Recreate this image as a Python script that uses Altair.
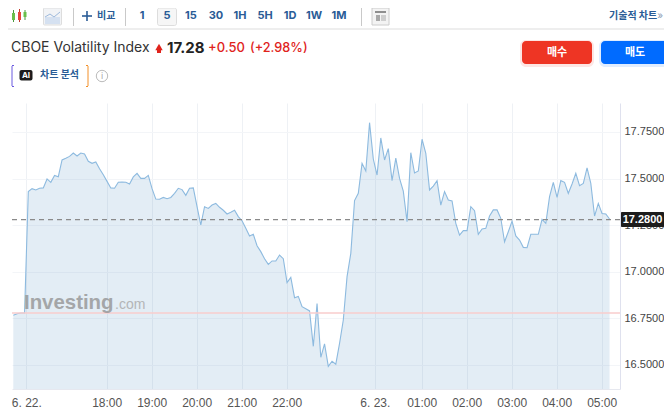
import altair as alt
import pandas as pd

# ---- chart values ----
series_values = [
    16.767, 16.775, 16.779, 16.779,
    17.43, 17.446, 17.439, 17.448, 17.45, 17.498, 17.48, 17.517, 17.51, 17.60,
    17.609, 17.619, 17.637, 17.621, 17.637, 17.632, 17.593, 17.582, 17.589, 17.553,
    17.521, 17.485, 17.45, 17.448, 17.48, 17.482, 17.48, 17.471, 17.509, 17.528,
    17.501, 17.501, 17.517, 17.446, 17.39, 17.389, 17.399, 17.392, 17.399, 17.421,
    17.448, 17.441, 17.41, 17.448, 17.45, 17.349, 17.251, 17.349, 17.34, 17.358,
    17.367, 17.346,
    17.33, 17.31, 17.319, 17.33, 17.296, 17.274, 17.233, 17.192, 17.201, 17.14,
    17.108, 17.07, 17.04, 17.058, 17.058, 17.09, 17.07, 16.942, 16.97, 16.861,
    16.868, 16.813, 16.802, 16.79, 16.60, 16.829, 16.541, 16.613, 16.493, 16.52,
    16.504, 16.616, 16.741, 16.974, 17.099, 17.382, 17.421,
    17.582, 17.541, 17.80, 17.605, 17.519, 17.718, 17.60, 17.661, 17.489, 17.61,
    17.501, 17.433, 17.269, 17.639, 17.53, 17.541, 17.711, 17.636, 17.439, 17.46,
    17.489, 17.358, 17.43, 17.385, 17.38, 17.26, 17.197, 17.221, 17.221, 17.349,
    17.328, 17.201, 17.23, 17.233, 17.299, 17.332, 17.332, 17.287,
    17.161, 17.215, 17.272, 17.192, 17.17, 17.131, 17.129, 17.201, 17.201, 17.201,
    17.281, 17.26, 17.403, 17.48, 17.399, 17.489, 17.48, 17.421, 17.471, 17.528,
    17.462, 17.474, 17.558, 17.474, 17.299, 17.367, 17.313, 17.31, 17.283,
]
x_ticks = [3.47, 24.9, 36.9, 48.9, 60.9, 72.9, 96.4, 108.9, 120.9, 132.9, 144.9, 156.9]
x_labels = ["6. 22.", "18:00", "19:00", "20:00", "21:00", "22:00", "6. 23.",
            "01:00", "02:00", "03:00", "04:00", "05:00"]
y_ticks = [16.5, 16.75, 17.0, 17.25, 17.5, 17.75]
y_range = [16.371, 17.9056]
last_price = 17.28
prev_close = 16.779
intervals = ["1", "5", "15", "30", "1H", "5H", "1D", "1W", "1M"]

df = pd.DataFrame({"bar": list(range(len(series_values))), "price": series_values})
df["base"] = y_range[0]

# ---- layout of the plot on the page ----
LEFT, TOP, W, H = 12, 103, 608, 286
one = alt.Data(values=[{"a": 1}])
KR = "Noto Sans CJK KR"
BLUE = "#2a5c96"


def X(p):
    return alt.value(p - LEFT)


def Y(p):
    return alt.value(p - TOP)


def txt(x, y, s, size=12, color="#333333", weight="normal", align="left", font="Inter", opacity=1.0):
    return alt.Chart(one).mark_text(
        text=s, fontSize=size, color=color, fontWeight=weight, align=align,
        baseline="middle", font=font, opacity=opacity,
    ).encode(x=X(x), y=Y(y))


def box(x1, y1, x2, y2, fill="#ffffff", stroke=None, opacity=1.0, radius=0):
    kw = dict(fill=fill, opacity=opacity, cornerRadius=radius)
    if stroke:
        kw.update(stroke=stroke, strokeWidth=1)
    return alt.Chart(one).mark_rect(**kw).encode(x=X(x1), x2=X(x2), y=Y(y1), y2=Y(y2))


def seg(x1, y1, x2, y2, color="#cccccc", width=1.0):
    return alt.Chart(one).mark_rule(color=color, strokeWidth=width).encode(
        x=X(x1), x2=X(x2), y=Y(y1), y2=Y(y2))


x_scale = alt.Scale(domain=[-0.347, -0.347 + W / 3.75], nice=False, zero=False)
y_scale = alt.Scale(domain=y_range, nice=False, zero=False)
label_map = "{" + ",".join(f"'{v}':'{t}'" for v, t in zip(x_ticks, x_labels)) + "}"

x_enc = alt.X("bar:Q", scale=x_scale, title=None, axis=alt.Axis(
    values=x_ticks, labelExpr=f"{label_map}[toString(datum.value)]",
    grid=True, gridColor="#eef1f5", gridWidth=1, ticks=False, domainColor="#e6e8ef",
    labelColor="#555555", labelFont="Liberation Sans", labelFontSize=12,
    labelPadding=8, labelOverlap=False, labelFlush=False))
y_enc = alt.Y("price:Q", scale=y_scale, title=None, axis=alt.Axis(
    orient="right", values=y_ticks, format=".4f", grid=True, gridColor="#f3f5f8",
    gridWidth=1, ticks=False, domainColor="#dfe1ee", labelColor="#444444",
    labelFont="Liberation Sans", labelFontSize=11, labelPadding=4))

area = alt.Chart(df).mark_area(color="#5b93c4", opacity=0.17).encode(x=x_enc, y=y_enc, y2="base:Q")
line = alt.Chart(df).mark_line(color="#8dbadf", strokeWidth=1.1).encode(x="bar:Q", y="price:Q")
close_rule = alt.Chart(one).mark_rule(color="#f8cdcd", strokeWidth=1.6).encode(y=alt.datum(prev_close))
last_rule = alt.Chart(one).mark_rule(color="#8a8a8a", strokeWidth=1.3, strokeDash=[5, 4]).encode(y=alt.datum(last_price))
tag_box = box(621, 212, 664, 227, fill="#1c1c1c", radius=1)
tag_text = alt.Chart(one).mark_text(
    text=f"{last_price:.4f}", color="#ffffff", fontSize=11, fontWeight="bold",
    font="Liberation Sans", align="center", baseline="middle",
).encode(x=X(642.5), y=alt.datum(last_price))

layers = [area, line, close_rule, last_rule,
          txt(24, 303, "Investing", 20.4, "#8f8f8f", "bold", font="Liberation Sans", opacity=0.75),
          txt(115, 305, ".com", 14, "#a8a8a8", font="Liberation Sans", opacity=0.8),
          tag_box, tag_text]

# ---- toolbar ----
layers += [
    seg(8, 29, 672, 29, "#dddddd", 1),
    # candle icon
    seg(13.5, 10, 13.5, 22, "#4a9a3c"), box(12, 13, 15, 20, "#6abf4b"),
    seg(19.5, 9, 19.5, 22, "#c0392b"), box(18, 12, 21, 20, "#e8453c"),
    seg(25, 10, 25, 20, "#4a9a3c"), box(23.5, 12, 26.5, 17, "#6abf4b"),
    # line icon
    box(43.5, 8, 61.5, 25, "#f1f3f6", "#dddddd", radius=1),
    box(45, 17, 60, 24, "#d5e1f1"),
    seg(45, 17, 50, 14, "#9db9dc"), seg(50, 14, 54, 17, "#9db9dc"), seg(54, 17, 60, 12, "#9db9dc"),
    seg(73.5, 8, 73.5, 26, "#c9c9c9"),
    seg(82, 16, 92, 16, BLUE, 1.6), seg(87, 11, 87, 21, BLUE, 1.6),
    txt(97, 16, "비교", 10, BLUE, "bold", font=KR),
    seg(125.5, 8, 125.5, 26, "#c9c9c9"),
    box(157.5, 8, 176.5, 25.5, "#f6f6f6", "#dddddd", radius=2),
    seg(361.5, 8, 361.5, 26, "#c9c9c9"),
    box(372, 8, 389, 25, "#f3f3f3", "#cccccc"),
    box(375, 11, 386, 13, "#8f8f8f"), box(376, 15, 380, 21, "#a8a8a8"),
    seg(381, 16, 386, 16, "#aaaaaa"), seg(381, 18, 386, 18, "#aaaaaa"), seg(381, 20, 386, 20, "#aaaaaa"),
    txt(609, 16, "기술적 차트", 10, BLUE, "bold", font=KR),
    txt(663, 16, "»", 10, "#8a9bb5", align="right"),
]
for cx, label in zip([142, 167, 191, 216, 240, 265, 290, 314, 339], intervals):
    layers.append(txt(cx, 15.5, label, 11, BLUE, "bold", "center"))

# ---- header ----
layers += [
    txt(11, 48, "CBOE Volatility Index", 14, "#333333"),
    alt.Chart(one).mark_point(shape="triangle-up", filled=True, fill="#e0231c", size=55, opacity=1).encode(x=X(159), y=Y(47)),
    box(157, 48, 161, 53, "#e0231c"),
    txt(167, 48, "17.28", 15, "#222222", "bold"),
    txt(208, 48, "+0.50", 13, "#e0231c", 500),
    txt(250, 48, "(+2.98%)", 12.7, "#e0231c", 500),
    # AI row
    seg(12, 66, 12, 86, "#6a5ae0"), seg(12, 65.5, 14, 65.5, "#6a5ae0"), seg(12, 86.5, 14, 86.5, "#6a5ae0"),
    seg(88, 66, 88, 86, "#f39028"), seg(86, 65.5, 88, 65.5, "#f39028"), seg(86, 86.5, 88, 86.5, "#f39028"),
    box(19.5, 70, 32.5, 80.5, "#1c1c1c", radius=2),
    txt(26, 75.5, "AI", 8, "#ffffff", "bold", "center"),
    txt(40, 75, "차트 분석", 10, BLUE, "bold", font=KR),
    alt.Chart(one).mark_point(shape="circle", filled=False, stroke="#bbbbbb", size=130, strokeWidth=1, opacity=1).encode(x=X(102), y=Y(76)),
    txt(102, 76, "i", 9, "#aaaaaa", align="center"),
    # buttons
    box(520, 40, 594, 67, "#ee3524", opacity=0.12, radius=6),
    box(522, 41, 592, 64, "#ee3524", radius=4),
    txt(557, 52.5, "매수", 11, "#ffffff", "bold", "center", KR),
    box(599, 40, 672, 67, "#006bff", opacity=0.12, radius=6),
    box(601, 41, 672, 64, "#006bff", radius=4),
    txt(635, 52.5, "매도", 11, "#ffffff", "bold", "center", KR),
]

CANVAS_W, CANVAS_H = 656, 405
pad_left, pad_top = LEFT - 8, TOP - 8
chart = alt.layer(*layers).properties(
    width=W, height=H, autosize=alt.AutoSizeParams(type="none"),
    padding={"left": pad_left, "top": pad_top,
             "right": CANVAS_W - pad_left - W, "bottom": CANVAS_H - pad_top - H},
).configure_view(stroke=None)

chart.save("out.html", embed_options={"renderer": "svg", "actions": False})
